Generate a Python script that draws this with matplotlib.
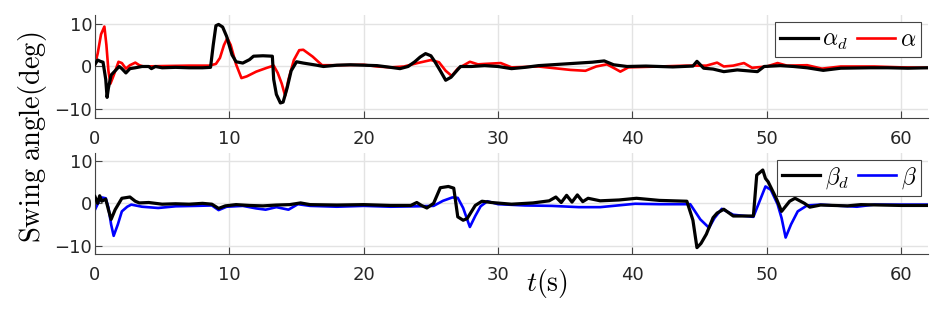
import numpy as np
import matplotlib
matplotlib.use('Agg')
import matplotlib.pyplot as plt

plt.rcParams['mathtext.fontset'] = 'cm'
plt.rcParams['font.family'] = 'DejaVu Sans'

# (time [s], angle [deg])
alpha_d = [(0, 0.5), (0.2, 1.5), (0.4, 1.2), (0.6, 1.0), (0.8, -3), (0.9, -7.2), (1.0, -5), (1.2, -2),
           (1.5, -1), (1.8, 0), (2.0, -0.5), (2.3, -1.5), (2.6, -0.5), (3.0, -0.3), (3.5, 0), (4.0, 0),
           (4.2, -0.5), (4.5, 0), (5, -0.3), (6, -0.2), (7, -0.3), (8, -0.3), (8.6, -0.2), (8.8, 5),
           (9.0, 9.5), (9.2, 9.8), (9.5, 9.2), (9.8, 7), (10.2, 2.7), (10.5, 1.1), (11.0, 0.8), (11.5, 1.6),
           (11.8, 2.4), (12.5, 2.5), (13.2, 2.4), (13.3, -3), (13.5, -6.5), (13.8, -8.5), (14.0, -8.3),
           (14.3, -5), (14.6, -1), (15.0, 1.1), (15.5, 0.8), (16.5, 0.3), (17.0, 0), (18, 0.3), (19, 0.4),
           (20, 0.3), (21, 0.2), (22, -0.2), (22.7, -0.5), (23.3, 0), (23.8, 1.1), (24.2, 2.2), (24.6, 3.0),
           (25.0, 2.5), (25.3, 1.1), (25.7, -1), (26.1, -3.2), (26.5, -2.5), (27.2, 0), (28, 0), (29, 0.2),
           (30, 0), (31, -0.5), (32, -0.2), (33, 0.2), (34, 0.4), (35, 0.6), (36, 0.8), (37, 1.0),
           (37.9, 1.3), (38.6, 0.4), (39.6, 0), (41, 0.1), (43, -0.1), (44.5, 0.1), (44.8, 1.2),
           (45.3, -0.4), (46, -0.6), (46.8, -1.2), (47.8, -0.8), (49.3, -1.2), (49.8, 0), (51, 0.2),
           (52, 0), (53, -0.3), (54.2, -0.9), (55.5, -0.4), (57.7, -0.3), (59, -0.3), (60.5, -0.4), (62, -0.3)]

alpha = [(0, 0.5), (0.2, 3), (0.45, 7.5), (0.7, 9.3), (0.85, 5), (1.0, -1), (1.15, -4), (1.4, -2),
         (1.75, 1.1), (2.0, 0.8), (2.3, -0.5), (2.6, 0.3), (3.0, 0.9), (3.3, 0.3), (3.6, 0), (5, 0.1),
         (7, 0.2), (8.5, 0.2), (9.0, 0.6), (9.3, 2), (9.6, 5), (9.85, 6.6), (10.1, 5), (10.5, 0.5),
         (10.9, -2.7), (11.3, -2.3), (12, -1.2), (12.8, -0.3), (13.3, 0.2), (13.6, -1.5), (13.9, -4),
         (14.15, -6.8), (14.4, -3), (14.8, 1.5), (15.2, 3.8), (15.5, 3.9), (16.2, 2.3), (16.9, 0.3),
         (18, 0.3), (20, 0.4), (21, 0), (22, -0.2), (23, 0), (24, 0.8), (25, 1.5), (25.6, 1.0), (26.1, -1),
         (26.55, -2.2), (27, -0.5), (27.9, 1.1), (28.5, 0.5), (29, 0.6), (30.2, 0.8), (31, -0.2), (33, 0),
         (35.4, -0.8), (36.5, -1), (37.3, 0), (38.1, 0.5), (38.7, -0.5), (39.1, -1.2), (39.7, -0.2),
         (42, 0), (44, 0.2), (45.5, 0.2), (46.3, 0.9), (46.8, 0), (47.5, 0.2), (48.3, 0.8), (48.9, -0.3),
         (50, 0), (50.8, 0.8), (51.5, 0.2), (53, 0.3), (54.1, -0.5), (55.5, 0), (58, 0), (60, -0.2), (62, -0.3)]

beta_d = [(0, 1.6), (0.2, 0), (0.35, 1.8), (0.5, 0.5), (0.8, 1.0), (1.0, -1.5), (1.2, -3.8), (1.5, -1.5),
          (2.0, 1.2), (2.6, 1.5), (3.0, 0.5), (3.3, 0.1), (4, 0.2), (5, -0.2), (6, -0.1), (7, -0.2), (8, 0),
          (8.7, -0.2), (9.2, -1.2), (9.7, -0.6), (10.5, -0.3), (11.5, -0.5), (12.5, -0.6), (13.5, -0.4),
          (14.5, -0.3), (15.3, 0.1), (16, -0.3), (18, -0.4), (20, -0.3), (22, -0.5), (23.5, -0.5),
          (23.95, 0.2), (24.3, -0.5), (24.7, -1.1), (25.2, 0), (25.7, 3.7), (26.3, 4.0), (26.7, 3.6),
          (27.0, -3.2), (27.4, -4.0), (27.7, -3.6), (28.3, -0.5), (28.8, 0.5), (29.5, 0.2), (31, -0.2),
          (32.6, 0.1), (33.8, 0.6), (34.3, 1.5), (34.7, 0.2), (35.1, 1.9), (35.5, 0.3), (35.9, 2.0),
          (36.3, 0.4), (36.7, 1.2), (37.6, 0.6), (39, 0.8), (40.3, 1.2), (42, 0.7), (44.05, 0.5),
          (44.5, -4), (44.8, -10.5), (45.1, -9.5), (45.5, -7.3), (46.0, -3.4), (46.3, -2.3), (46.8, -1.4),
          (47.5, -3.0), (49.0, -3.0), (49.25, 6.7), (49.7, 7.9), (49.9, 5.9), (50.1, 5.1), (50.7, 1.2),
          (51.1, -1.9), (51.7, 0.5), (52.1, 1.2), (52.8, 0), (53.2, -0.9), (54, -0.4), (56, -0.6),
          (57, -0.3), (60, -0.5), (62, -0.5)]

beta = [(0, -1.5), (0.3, 0.5), (0.5, 1.4), (0.8, 1.2), (1.0, -1), (1.2, -5), (1.39, -7.7), (1.7, -5),
        (2.0, -1.9), (2.4, -0.8), (2.7, -0.3), (3.5, -0.8), (4.7, -1.1), (6, -0.7), (7.5, -0.6),
        (8.7, -0.5), (9.2, -1.6), (9.8, -0.8), (11, -0.6), (12, -1.2), (12.7, -1.5), (13.5, -0.9),
        (14.4, -1.5), (15.1, -0.2), (16, -0.6), (18, -0.8), (20, -0.6), (22, -0.8), (24, -0.7),
        (25.2, -0.6), (25.9, 0.6), (26.6, 1.4), (27.0, 1.3), (27.4, -1.1), (27.9, -5.6), (28.3, -3),
        (28.7, -0.7), (29.2, 0.5), (30, -0.2), (32, -0.5), (34, -0.6), (36, -0.9), (37.6, -0.9),
        (40.2, -0.1), (42, -0.2), (44.3, -0.2), (45.05, -3.8), (45.7, -5.8), (46.1, -3.5), (46.65, -1.3),
        (47.5, -2.7), (49.0, -3.2), (49.4, 0), (49.9, 4.0), (50.3, 3.2), (50.8, -0.2), (51.1, -3.5),
        (51.4, -8.1), (51.8, -5.0), (52.3, -1.9), (53.0, -0.5), (54, -0.3), (55.5, -0.6), (56.7, -0.8),
        (58, -0.3), (62, -0.3)]

x_ticks = [0, 10, 20, 30, 40, 50, 60]
y_ticks = [-10, 0, 10]

fig = plt.figure(figsize=(9.47, 3.11), dpi=100)
ax1 = fig.add_axes([0.1003, 0.6206, 0.8797, 0.3312])
ax2 = fig.add_axes([0.1003, 0.1833, 0.8797, 0.3257])


def style(ax):
    ax.set_xlim(0, 62)
    ax.set_ylim(-12, 12)
    ax.set_xticks(x_ticks)
    ax.set_yticks(y_ticks)
    ax.grid(True, color='#e3e3e3', linewidth=1)
    ax.set_axisbelow(True)
    for s in ['top', 'right']:
        ax.spines[s].set_visible(False)
    for s in ['left', 'bottom']:
        ax.spines[s].set_color('#444444')
    ax.tick_params(direction='in', length=5, color='#444444', labelsize=13, labelcolor='#262626')
    ax.tick_params(axis='x', pad=9)
    ax.tick_params(axis='y', pad=2)


t, v = np.array(alpha).T
ax1.plot(t, v, color='red', lw=1.9, label=r'$\alpha$', zorder=2)
t, v = np.array(alpha_d).T
ax1.plot(t, v, color='black', lw=2.3, label=r'$\alpha_d$', zorder=3)
t, v = np.array(beta).T
ax2.plot(t, v, color='blue', lw=1.9, label=r'$\beta$', zorder=2)
t, v = np.array(beta_d).T
ax2.plot(t, v, color='black', lw=2.3, label=r'$\beta_d$', zorder=3)

for ax in (ax1, ax2):
    style(ax)
    h, l = ax.get_legend_handles_labels()
    leg = ax.legend(h[::-1], l[::-1], loc='upper right', ncol=2, fontsize=17,
                    handlelength=1.6, handletextpad=0.2, columnspacing=0.4,
                    borderpad=0.2, borderaxespad=0.3, fancybox=False, framealpha=1)
    leg.get_frame().set_edgecolor('#444444')
    leg.get_frame().set_linewidth(0.8)

fig.text(0.034, 0.56, r'$\mathrm{Swing\ angle(deg)}$', rotation=90, fontsize=20.5,
         ha='center', va='center')
fig.text(0.578, 0.087, r'$t\mathrm{(s)}$', fontsize=20, ha='center', va='center')

fig.savefig('out.png', dpi=100)
